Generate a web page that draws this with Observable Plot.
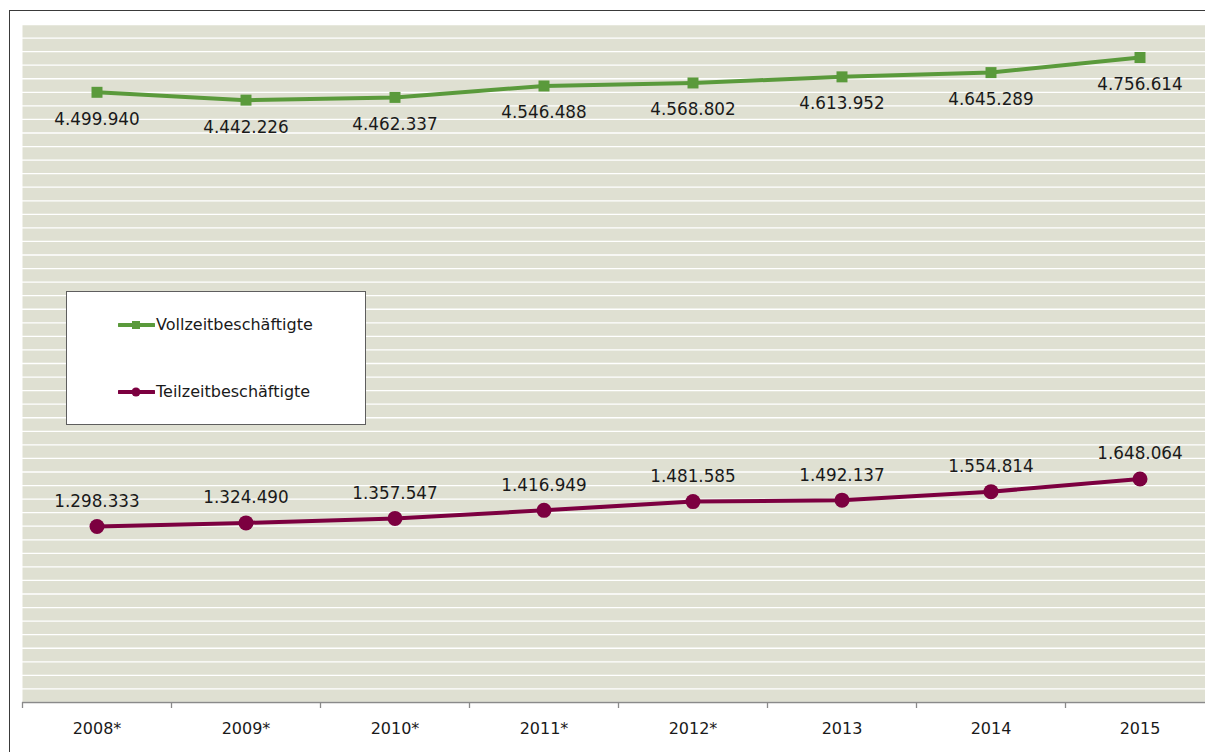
<!DOCTYPE html>
<html>
<head>
<meta charset="utf-8">
<script src="https://cdn.jsdelivr.net/npm/d3@7"></script>
<script src="https://cdn.jsdelivr.net/npm/@observablehq/plot@0.6"></script>
<style>
  html, body { margin: 0; padding: 0; background: #fff; overflow: hidden; }
  #wrap { position: relative; width: 1205px; height: 752px; font-family: "DejaVu Sans", sans-serif; }
  #outer { position: absolute; left: 9px; top: 10px; width: 1300px; height: 900px; border-left: 1.5px solid #3a3a3a; border-top: 1.5px solid #3a3a3a; box-sizing: border-box; }
  #chart { position: absolute; left: 0; top: 0; }
  #legend { position: absolute; left: 66px; top: 291px; width: 300px; height: 134px; background: #fff; border: 1px solid #5e5e5e; box-sizing: border-box; }
  .item { position: absolute; left: 51px; display: flex; align-items: center; font-size: 16px; color: #1a1a1a; }
  .item svg { display: block; margin-right: 1px; }
</style>
</head>
<body>
<div id="wrap">
  <div id="outer"></div>
  <div id="chart"></div>
  <div id="legend"></div>
</div>
<script>
const years = ["2008*", "2009*", "2010*", "2011*", "2012*", "2013", "2014", "2015"];
const vollzeit = [4499940, 4442226, 4462337, 4546488, 4568802, 4613952, 4645289, 4756614];
const teilzeit = [1298333, 1324490, 1357547, 1416949, 1481585, 1492137, 1554814, 1648064];
const seriesNames = ["Vollzeitbeschäftigte", "Teilzeitbeschäftigte"];

const green = "#5a9a3b";
const maroon = "#7c0040";
const de = d3.formatLocale({decimal: ",", thousands: ".", grouping: [3], currency: ["", " €"]});
const fmt = de.format(",d");

const idx = (d, i) => i;
const val = d => d;

const chart = Plot.plot({
  width: 1205,
  height: 752,
  marginLeft: 22,
  marginRight: 0,
  marginTop: 24,
  marginBottom: 50,
  style: {background: "transparent", fontFamily: "DejaVu Sans, sans-serif", color: "#1a1a1a"},
  x: {type: "linear", domain: [-0.5, 7.5], range: [22, 1214]},
  y: {domain: [0, 5000000], axis: null},
  marks: [
    Plot.frame({fill: "#dfe0d2", stroke: null}),
    Plot.gridY({interval: 100000, stroke: "#ffffff", strokeOpacity: 1, strokeWidth: 1.3}),
    Plot.ruleY([0], {stroke: "#8a8a8a", strokeWidth: 1.5}),
    Plot.axisX({ticks: d3.range(-0.5, 7.5, 1), tickSize: 6, tickFormat: () => "", stroke: "#8a8a8a", strokeWidth: 1.3}),
    Plot.axisX({ticks: d3.range(years.length), tickSize: 0, tickPadding: 20, tickFormat: i => years[i], fontSize: 16, fill: "#1a1a1a"}),
    Plot.line(vollzeit, {x: idx, y: val, stroke: green, strokeWidth: 4}),
    Plot.dot(vollzeit, {x: idx, y: val, symbol: "square", r: 6.2, fill: green, stroke: null}),
    Plot.text(vollzeit, {x: idx, y: val, text: fmt, dy: 27, fontSize: 16.8, fill: "#1a1a1a"}),
    Plot.line(teilzeit, {x: idx, y: val, stroke: maroon, strokeWidth: 4}),
    Plot.dot(teilzeit, {x: idx, y: val, symbol: "circle", r: 7.5, fill: maroon, stroke: null}),
    Plot.text(teilzeit, {x: idx, y: val, text: fmt, dy: -25, fontSize: 16.8, fill: "#1a1a1a"})
  ]
});
document.getElementById("chart").appendChild(chart);

// legend
const legend = document.getElementById("legend");
const items = [
  {name: seriesNames[0], color: green, shape: "square", top: 23},
  {name: seriesNames[1], color: maroon, shape: "circle", top: 90}
];
for (const it of items) {
  const div = document.createElement("div");
  div.className = "item";
  div.style.top = it.top + "px";
  const marker = it.shape === "square"
    ? `<rect x="14" y="1" width="8" height="8" fill="${it.color}"/>`
    : `<circle cx="18" cy="5" r="4.5" fill="${it.color}"/>`;
  div.innerHTML = `<svg width="37" height="10"><line x1="1" y1="5" x2="36" y2="5" stroke="${it.color}" stroke-width="4" stroke-linecap="round"/>${marker}</svg><span>${it.name}</span>`;
  legend.appendChild(div);
}
</script>
</body>
</html>
